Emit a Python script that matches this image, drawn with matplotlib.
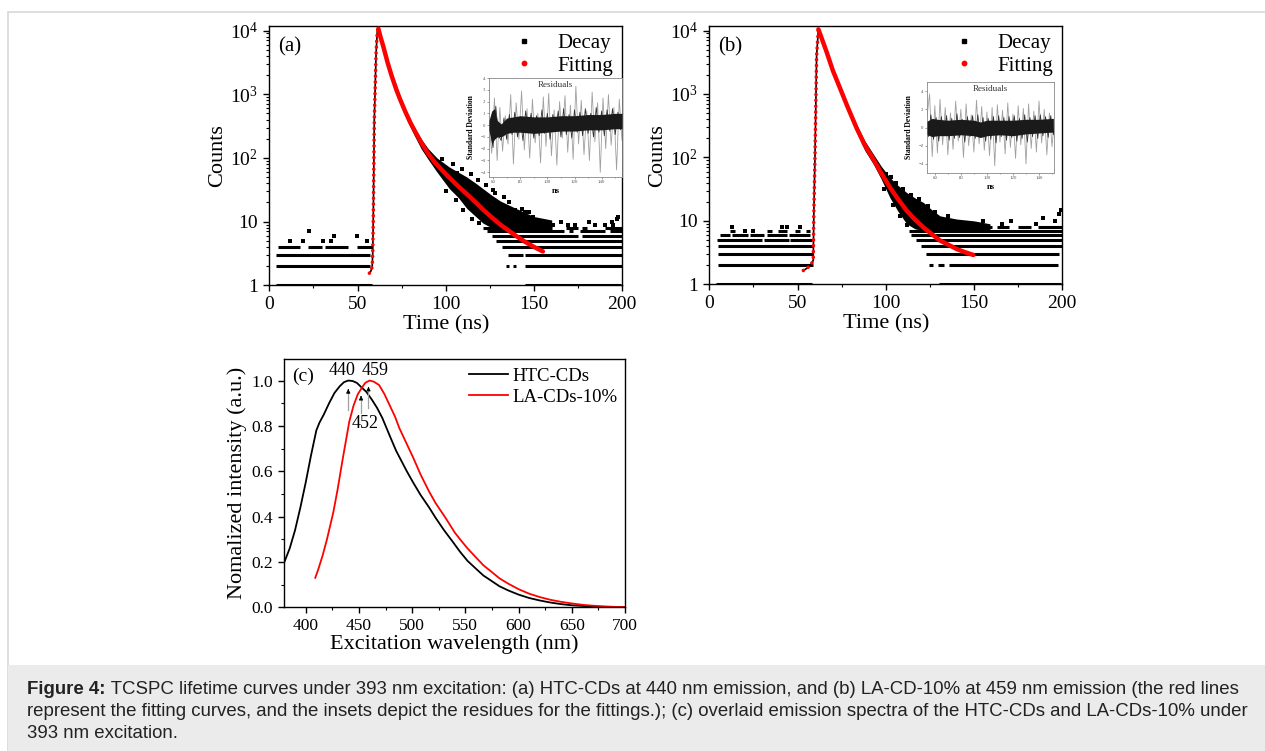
import numpy as np
import matplotlib
matplotlib.use("Agg")
import matplotlib.pyplot as plt
from matplotlib.lines import Line2D
from matplotlib.patches import Rectangle
from matplotlib.ticker import (MultipleLocator, FixedLocator, FixedFormatter, LogLocator,
                               NullFormatter, FormatStrFormatter)

plt.rcParams['font.family'] = 'Liberation Serif'
plt.rcParams['mathtext.fontset'] = 'custom'
plt.rcParams['mathtext.rm'] = 'Liberation Serif'
plt.rcParams['mathtext.it'] = 'Liberation Serif:italic'
plt.rcParams['axes.linewidth'] = 1.0

# ---------------- (a) HTC-CDs decay at 440 nm ----------------
fit_a_t = [56.7, 57.5, 58.3, 58.6, 58.9, 59.5, 60.5, 61.2, 61.8, 63, 64.6, 67, 69.3, 72,
           74.1, 77, 80, 83.5, 87, 90, 93, 97, 102, 107, 112, 117, 121, 126, 131, 136,
           140, 145, 150, 155]
fit_a_c = [1.55, 1.66, 1.95, 3.2, 10.7, 400, 4400, 10000, 10700, 7940, 5620, 3160, 1950,
           1175, 832, 537, 355, 234, 158, 117, 91, 68, 49, 36, 27, 20, 15.5, 11.7, 8.9,
           7.1, 5.9, 4.8, 4.0, 3.4]
cloud_a_t = [61.5, 64, 67, 70, 74, 78, 82, 86, 90, 95, 102, 107, 112, 117, 121, 126, 131,
             140, 150, 160]
cloud_a_hi = [11000, 7000, 3500, 2000, 960, 510, 310, 200, 140, 100, 72, 60, 50, 40, 33, 26,
              21, 16, 12, 10.6]
cloud_a_lo = [9500, 5600, 2800, 1600, 760, 390, 230, 140, 95, 60, 33, 24, 16, 12, 9.5, 8,
              7.4, 7.6, 7.8, 8.0]
rows_a = {
    1: [(4, 58), (145, 199)],
    2: [(4, 57), (134, 136), (138, 140), (145, 200)],
    3: [(4, 57), (135.5, 143.5), (145, 200)],
    4: [(5, 17.4), (22, 30), (31.5, 44.8), (49.5, 58), (131.7, 200)],
    5: [(128.5, 200)],
    6: [(126, 175), (177, 200)],
    7: [(123.5, 167), (170, 172), (176, 190), (193, 200)],
    8: [(121, 160), (168, 175), (177, 180), (190, 200)],
}
dots_a_t = [11.7, 19.3, 30.6, 35, 55.2, 36.5, 49.5, 22.6, 169.4, 173.2, 184.5, 190.2, 194,
            196.8, 197.7, 195, 149.6, 153.4, 157.2, 160.9, 144.9, 139.2, 126.9, 106.1, 165,
            181, 98, 104, 109, 114, 118, 123, 128, 133, 136, 143, 147, 100, 106, 110, 115,
            119]
dots_a_c = [5, 5, 5, 5, 5, 6, 6, 7, 9, 9, 9, 9, 10,
            11, 12, 9, 12, 10, 10, 9, 14, 15, 31, 57, 10,
            10, 95, 80, 66, 55, 45, 38, 28, 24, 20, 16, 14, 30, 22, 15, 11,
            9.5]
res_a = [0.2, -2.4, 2.3, -3.0, 1.5, -2.2, 0.8, -1.6, 2.6, -3.3, 1.9, -1.2, 2.9, -2.1, 1.4,
         -2.8, 2.2, -1.5, 1.0, -3.2, 2.4, -1.8, 2.7, -2.6, 1.3, -3.4, 2.0, -1.1, 2.5, -2.3,
         1.7, -2.9, 3.3, -1.6, 2.1, -2.5, 1.2, -3.0, 2.8, -1.4, 1.9, -4.0, 2.3, -2.0, 2.6,
         -1.7, 1.5, -3.8, 2.2, -1.3]
res_a_core = [-0.4, -1.9, 1.6, -0.9, -1.3, 0.6, -1.2, 0.9, -0.8, 1.1, -1.0, 0.7, -1.3, 1.2,
              -0.6, 1.0, -1.1, 0.8, -0.9, 1.3, -0.7, 1.0, -1.2, 0.9, -0.5, 1.2, -1.0, 1.4,
              -0.8, 0.9, -1.1, 1.3, -0.6, 1.1, -0.9, 1.4, -0.7, 1.0, -1.0, 1.5, -0.6, 1.2,
              -0.9, 1.3, -0.5, 1.4, -0.8, 1.1, -0.4, 1.2]
core_a_t = [57, 59, 61, 63, 66, 70, 75, 80, 90, 100, 110, 120, 130, 140, 150, 155]
core_a_hi = [0.4, 1.2, 1.4, 0.4, 0.1, 0.6, 0.7, 0.8, 0.7, 0.7, 0.8, 0.8, 0.9, 0.9, 1.0, 1.0]
core_a_lo = [-0.4, -1.6, -1.2, -1.0, -1.0, -0.7, -0.6, -0.6, -0.7, -0.6, -0.5, -0.5, -0.4,
             -0.4, -0.3, -0.3]

# ---------------- (b) LA-CDs-10% decay at 459 nm ----------------
fit_b_t = [53.3, 55.5, 57.1, 58.3, 58.9, 59.2, 59.9, 60.8, 61.8, 63, 66.5, 70, 74.1, 78,
           83.5, 88, 93, 97.5, 102.4, 107, 111.8, 116.5, 121.3, 126, 130.7, 135.5, 140.1,
           145, 149.6]
fit_b_c = [1.65, 1.8, 2.0, 2.2, 2.4, 12, 112, 4000, 10470, 8510, 4570, 2344, 1230, 661,
           288, 158, 93, 56, 33.5, 21.9, 14.5, 10.5, 7.9, 6.2, 4.9, 4.2, 3.6, 3.2, 2.9]
cloud_b_t = [61.8, 63, 66.5, 70, 74, 78, 83.5, 88, 93, 97.5, 102.4, 107, 111.8, 116.5,
             121.3, 126, 130.7, 140, 150, 159]
cloud_b_hi = [11000, 9300, 5000, 2600, 1380, 740, 330, 185, 112, 72, 48, 36, 28, 23, 19.5,
              15, 12, 10.7, 10, 9]
cloud_b_lo = [9500, 7700, 4100, 2100, 1100, 590, 250, 130, 78, 45, 23, 14, 9, 7.5, 7, 7, 7,
              7, 7, 7]
rows_b = {
    1: [(4, 58), (130, 199)],
    2: [(5, 58.9), (124.6, 126.5), (129.3, 133.1), (135.9, 197.3)],
    3: [(5, 58.9), (122.7, 198)],
    4: [(5, 58.9), (119.9, 200)],
    5: [(4.5, 30), (31, 45), (46, 58), (117.1, 200)],
    6: [(6, 12), (13, 22), (23, 31), (32.5, 44), (45, 57), (114.3, 200)],
    7: [(11.7, 14.5), (32.5, 35.3), (39.1, 43.8), (48.5, 51.4), (55, 57), (113.3, 200)],
    8: [(156.7, 160), (163, 170), (175, 182), (186, 200)],
}
dots_b_t = [20.2, 24.9, 12.7, 41, 43.8, 51.4, 150, 155, 166, 171, 185, 189, 196, 198, 199,
            103, 108, 115, 100, 106, 110, 114, 119, 124, 128, 135, 99, 104, 108, 112]
dots_b_c = [7, 7, 8, 8, 8, 8, 9, 10, 9, 10, 9, 11, 10, 13, 15,
            50, 30, 21, 55, 40, 32, 26, 22, 17, 14, 12, 32, 18, 12, 8.5]
res_b = [1.2, 3.7, -3.2, 2.4, -2.8, 3.1, -1.9, 2.2, -3.0, 1.6, -2.4, 2.9, -1.5, 2.0, -3.3,
         2.6, -2.0, 1.4, -2.7, 3.0, -1.8, 2.3, -2.5, 1.7, -3.1, 2.2, -4.2, 2.5, -1.6, 1.9,
         -2.9, 2.7, -2.2, 1.5, -3.4, 2.4, -1.9, 2.1, -4.0, 2.6, -2.3, 1.8, -2.7, 2.9, -1.7,
         2.0, -3.0, 1.6, -2.1, 1.3]
res_b_core = [-1.0, 1.4, -1.3, 1.1, -1.5, 1.2, -0.9, 1.3, -1.4, 1.0, -1.2, 1.5, -1.1, 0.9,
              -1.6, 1.2, -1.0, 1.3, -1.2, 1.4, -0.9, 1.1, -1.5, 1.0, -1.3, 1.2, -1.7, 1.3,
              -1.0, 1.1, -1.4, 1.2, -1.1, 1.3, -1.5, 1.0, -1.2, 1.4, -1.6, 1.1, -1.0, 1.3,
              -1.2, 1.4, -0.9, 1.2, -1.1, 1.3, -0.8, 1.2]
core_b_t = [54, 58, 62, 70, 80, 90, 95, 100, 110, 120, 130, 140, 151]
core_b_hi = [0.7, 1.0, 0.9, 0.8, 0.9, 0.8, 0.6, 0.8, 0.8, 0.8, 0.9, 0.9, 1.0]
core_b_lo = [-0.8, -1.0, -0.9, -0.9, -0.8, -0.9, -1.1, -0.9, -0.8, -0.9, -0.7, -0.6, -0.5]

# ---------------- (c) emission spectra ----------------
htc_nm = [380, 385, 390, 395, 400, 405, 410, 413, 417, 422, 427, 432, 436, 440, 444, 448,
          452, 457, 462, 467, 472, 476, 480, 485, 490, 495, 501, 508, 516, 522, 530, 538,
          545, 552, 560, 567, 575, 582, 590, 600, 610, 620, 630, 640, 650, 660, 670, 680,
          690, 700]
htc_int = [0.20, 0.26, 0.34, 0.44, 0.55, 0.67, 0.78, 0.815, 0.85, 0.90, 0.945, 0.975, 0.993,
           1.0, 0.998, 0.99, 0.972, 0.95, 0.917, 0.88, 0.835, 0.79, 0.745, 0.69, 0.645,
           0.60, 0.55, 0.495, 0.44, 0.395, 0.34, 0.29, 0.245, 0.205, 0.17, 0.14, 0.115,
           0.093, 0.075, 0.056, 0.041, 0.03, 0.021, 0.014, 0.009, 0.006, 0.0035, 0.002,
           0.001, 0.0]
la_nm = [409, 412, 416, 420, 423, 426, 430, 435, 438, 441, 445, 449, 453, 456, 460, 464,
         469, 474, 479, 484, 488, 494, 501, 508, 516, 522, 532, 540, 545, 552, 560, 567,
         575, 582, 590, 600, 610, 620, 630, 640, 650, 660, 670, 680, 690, 700]
la_int = [0.13, 0.17, 0.23, 0.30, 0.36, 0.42, 0.52, 0.66, 0.74, 0.82, 0.89, 0.94, 0.97,
          0.99, 1.0, 0.995, 0.98, 0.94, 0.89, 0.84, 0.79, 0.73, 0.66, 0.585, 0.51, 0.46,
          0.39, 0.33, 0.30, 0.26, 0.22, 0.185, 0.155, 0.128, 0.105, 0.08, 0.06, 0.045,
          0.033, 0.024, 0.017, 0.011, 0.007, 0.004, 0.002, 0.001]
peak_nm = [440, 452, 459]
peak_lbl = ['440', '452', '459']

caption = [
    "TCSPC lifetime curves under 393 nm excitation: (a) HTC-CDs at 440 nm emission, and "
    "(b) LA-CD-10% at 459 nm emission (the red lines",
    "represent the fitting curves, and the insets depict the residues for the fittings.); "
    "(c) overlaid emission spectra of the HTC-CDs and LA-CDs-10% under",
    "393 nm excitation.",
]

W, H = 1265, 751
fig = plt.figure(figsize=(W / 100, H / 100), dpi=100)


def box(px_left, px_top, px_right, px_bottom):
    return [px_left / W, 1 - px_bottom / H, (px_right - px_left) / W, (px_bottom - px_top) / H]


def decay_panel(rect, fit_t, fit_c, cl_t, cl_hi, cl_lo, rows, dt, dc, tag):
    ax = fig.add_axes(rect)
    ax.set_yscale('log')
    ax.fill_between(cl_t, cl_lo, cl_hi, color='black', lw=0, zorder=2)
    for lev, segs in rows.items():
        for s in segs:
            ax.hlines(lev, s[0], s[1], color='black', lw=2.2, zorder=2)
    ax.scatter(dt, dc, marker='s', s=5, color='black', lw=0, zorder=2)
    ipk = int(np.argmax(fit_c))
    ax.plot(fit_t[:ipk + 1], fit_c[:ipk + 1], color='black', lw=1.2, zorder=2)
    ax.plot(fit_t[:ipk + 1], fit_c[:ipk + 1], color='red', lw=2.6,
            linestyle=(0, (0.01, 1.6)), dash_capstyle='round', zorder=3)
    ax.plot(fit_t[ipk:], fit_c[ipk:], color='red', lw=3.2, solid_capstyle='round',
            solid_joinstyle='round', zorder=3)
    ax.set_xlim(0, 200)
    ax.set_ylim(1, 11800)
    ax.xaxis.set_major_locator(MultipleLocator(50))
    ax.xaxis.set_minor_locator(MultipleLocator(25))
    ax.yaxis.set_major_locator(FixedLocator([1, 10, 100, 1000, 10000]))
    ax.yaxis.set_major_formatter(FixedFormatter(['1', '10', '10$^2$', '10$^3$', '10$^4$']))
    ax.yaxis.set_minor_locator(LogLocator(base=10, subs=np.arange(2, 10)))
    ax.yaxis.set_minor_formatter(NullFormatter())
    ax.tick_params(which='both', direction='out', top=False, right=False, labelsize=14)
    ax.tick_params(which='major', length=4.5, width=1)
    ax.tick_params(which='minor', length=2.5, width=0.8)
    ax.set_xlabel('Time (ns)', fontsize=16, labelpad=1)
    ax.set_ylabel('Counts', fontsize=16, labelpad=2)
    ax.text(0.024, 0.92, tag, transform=ax.transAxes, fontsize=15, ha='left', va='center')
    handles = [Line2D([], [], ls='none', marker='s', ms=3.2, color='black'),
               Line2D([], [], ls='none', marker='o', ms=3.2, color='red')]
    ax.legend(handles, ['Decay', 'Fitting'], loc='upper right', bbox_to_anchor=(1.01, 1.02),
              frameon=False, fontsize=15, handlelength=1.0, handletextpad=1.1,
              labelspacing=0.15, borderaxespad=0.2)
    return ax


def residual_inset(rect, res, core, t0, step, c_t, c_hi, c_lo, xlim, ylim, yticks):
    ax = fig.add_axes(rect)
    rt = t0 + step * np.arange(len(res))
    ax.plot(rt, res, color='#a0a0a0', lw=0.6, zorder=2)
    ax.plot(rt + step / 2, core, color='#333333', lw=0.6, zorder=3)
    ax.fill_between(c_t, c_lo, c_hi, color='#1a1a1a', lw=0, zorder=4)
    ax.set_xlim(*xlim)
    ax.set_ylim(*ylim)
    ax.xaxis.set_major_locator(MultipleLocator(20))
    ax.xaxis.set_minor_locator(MultipleLocator(10))
    ax.yaxis.set_major_locator(FixedLocator(yticks))
    ax.tick_params(which='both', direction='out', labelsize=3.5, length=1.5, width=0.4, pad=1,
                   colors='#555555')
    ax.tick_params(which='minor', length=1)
    for sp in ax.spines.values():
        sp.set_color('#888888')
        sp.set_linewidth(0.6)
    ax.set_xlabel('ns', fontsize=6, fontweight='bold', labelpad=2)
    ax.set_ylabel('Standard Deviation', fontsize=5.5, fontweight='bold', labelpad=4)
    ax.text(0.5, 0.97, 'Residuals', transform=ax.transAxes, fontsize=6.5, ha='center',
            va='top', color='#333333', zorder=6)
    return ax


# page frame and caption band
fig.add_artist(Rectangle((8 / W, 0), 1, 1 - 12 / H, transform=fig.transFigure,
                         facecolor='none', edgecolor='#d8d8d8', lw=1.2))
fig.add_artist(Rectangle((8 / W, 0), 1, 1 - 665 / H, transform=fig.transFigure,
                         facecolor='#ebebeb', edgecolor='none'))

decay_panel(box(269.3, 26, 622.3, 285.3), fit_a_t, fit_a_c, cloud_a_t, cloud_a_hi,
            cloud_a_lo, rows_a, dots_a_t, dots_a_c, '(a)')
residual_inset(box(489, 78, 622, 177), res_a, res_a_core, 57, 2.0, core_a_t, core_a_hi,
               core_a_lo, (57, 155), (-4.4, 4.0), [-4, -3, -2, -1, 0, 1, 2, 3, 4])

decay_panel(box(709.3, 26, 1062.3, 284.3), fit_b_t, fit_b_c, cloud_b_t, cloud_b_hi,
            cloud_b_lo, rows_b, dots_b_t, dots_b_c, '(b)')
residual_inset(box(927, 82, 1054, 173), res_b, res_b_core, 54, 2.0, core_b_t, core_b_hi,
               core_b_lo, (54, 151.5), (-5, 5), [-4, -2, 0, 2, 4])

# (c) spectra
axc = fig.add_axes(box(284.4, 359, 625, 607.3))
axc.plot(htc_nm, htc_int, color='black', lw=1.3, label='HTC-CDs')
axc.plot(la_nm, la_int, color='red', lw=1.3, label='LA-CDs-10%')
axc.set_xlim(380, 700)
axc.set_ylim(0, 1.095)
axc.xaxis.set_major_locator(MultipleLocator(50))
axc.xaxis.set_minor_locator(MultipleLocator(25))
axc.yaxis.set_major_locator(MultipleLocator(0.2))
axc.yaxis.set_minor_locator(MultipleLocator(0.1))
axc.yaxis.set_major_formatter(FormatStrFormatter('%.1f'))
axc.tick_params(which='both', direction='out', top=False, right=False, labelsize=12.5)
axc.tick_params(which='major', length=4.5, width=1)
axc.tick_params(which='minor', length=2.5, width=0.8)
axc.set_xlabel('Excitation wavelength (nm)', fontsize=16, labelpad=0)
axc.set_ylabel('Nomalized intensity (a.u.)', fontsize=16, labelpad=3)
axc.text(0.022, 1.018, '(c)', transform=axc.get_yaxis_transform(), fontsize=14,
         ha='left', va='center')
axc.legend(loc='upper right', bbox_to_anchor=(1.01, 1.01), frameon=False, fontsize=13.5,
           handlelength=2.1, handletextpad=0.2, labelspacing=0.2, borderaxespad=0.2)
for x, lbl, (ya, yb), (tx, ty) in zip(peak_nm, peak_lbl,
                                      [(0.87, 0.975), (0.855, 0.945), (0.88, 0.985)],
                                      [(434, 1.045), (456, 0.81), (465, 1.045)]):
    axc.plot([x, x], [ya, yb - 0.02], color='#a0a0a0', lw=0.9)
    axc.annotate('', xy=(x, yb), xytext=(x, yb - 0.03),
                 arrowprops=dict(arrowstyle='-|>', color='black', lw=0.6, mutation_scale=6))
    axc.text(tx, ty, lbl, fontsize=13, ha='center', va='center')

# caption
renderer = fig.canvas.get_renderer()
cap_x = 27 / W
cap_fs = 13.4
bold = fig.text(cap_x, 1 - 689 / H, 'Figure 4:', fontsize=cap_fs, fontweight='bold',
                family='Liberation Sans', va='center', color='#222222')
bb = bold.get_window_extent(renderer)
fig.text(bb.x1 / W, 1 - 689 / H, ' ' + caption[0], fontsize=cap_fs, family='Liberation Sans',
         va='center', color='#222222')
fig.text(cap_x, 1 - 711 / H, caption[1], fontsize=cap_fs, family='Liberation Sans',
         va='center', color='#222222')
fig.text(cap_x, 1 - 733 / H, caption[2], fontsize=cap_fs, family='Liberation Sans',
         va='center', color='#222222')

fig.savefig('out.png', dpi=100)
